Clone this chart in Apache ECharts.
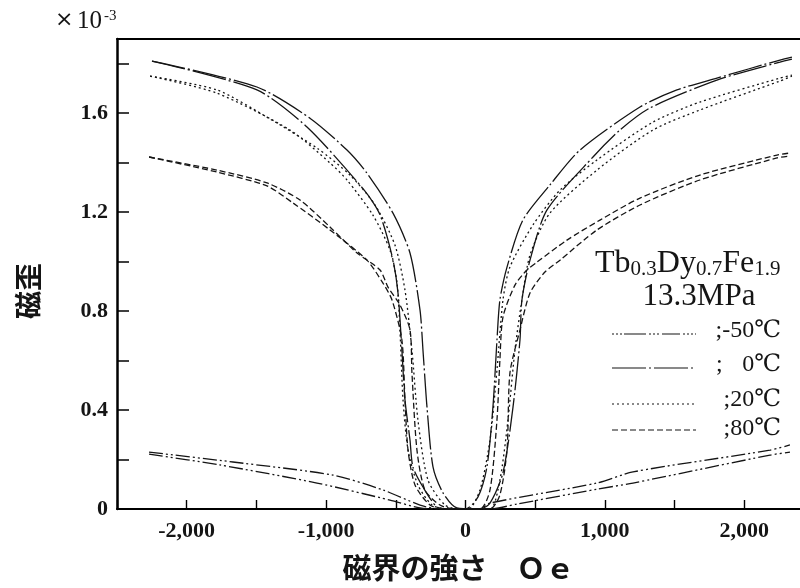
<!DOCTYPE html>
<html><head><meta charset="utf-8">
<script src="https://cdn.jsdelivr.net/npm/echarts@6.0.0/dist/echarts.min.js"></script>
<style>html,body{margin:0;padding:0;background:#fff}#c{width:800px;height:588px}</style>
</head><body><div id="c"></div>
<script>
// ---- tick labels ----
const xTickValues = [-2000, -1000, 0, 1000, 2000];
const yTickValues = [0, 0.4, 0.8, 1.2, 1.6];
const tempLabels = [';-50℃', '0℃', ';20℃', ';80℃'];

// ---- series data: [field Oe, strain ×10^-3] ----
// -50°C (two hysteresis branches)
const m50_a = [[-2270,0.230],[-1668,0.190],[-951,0.137],[-592,0.077],[-326,0.016],[-183,0],[0,0],[176,0.0],[369,0.02],[943,0.08],[1202,0.105],[2185,0.218],[2328,0.230]];
const m50_b = [[-2270,0.222],[-1761,0.178],[-1065,0.105],[-542,0.036],[-326,0.004],[-200,0],[100,0],[176,0.024],[943,0.105],[1202,0.150],[2185,0.238],[2328,0.259]];
// 0°C
const t0_a = [[-2249,1.811],[-1496,1.694],[-1137,1.544],[-728,1.290],[-613,1.189],[-520,1.007],[-484,0.873],[-456,0.643],[-434,0.441],[-398,0.279],[-377,0.170],[-305,0.089],[-204,0.008],[-111,0],[0,0],[90,0.049],[154,0.170],[197,0.412],[226,0.683],[247,0.845],[298,0.978],[412,1.168],[606,1.310],[821,1.451],[1252,1.625],[1517,1.694],[1804,1.742],[2256,1.815],[2342,1.827]];
const t0_b = [[-2249,1.811],[-1496,1.706],[-1116,1.580],[-850,1.451],[-707,1.358],[-520,1.196],[-398,1.035],[-326,0.804],[-305,0.643],[-276,0.412],[-233,0.170],[-161,0.065],[-61,0.004],[100,0],[176,0.024],[269,0.146],[341,0.412],[391,0.683],[405,0.845],[463,1.006],[585,1.209],[915,1.423],[1108,1.532],[1323,1.621],[1804,1.734],[2256,1.807],[2342,1.819]];
// 20°C
const t20_a = [[-2263,1.750],[-1783,1.681],[-1259,1.532],[-972,1.399],[-850,1.330],[-664,1.188],[-542,1.047],[-491,0.913],[-470,0.724],[-448,0.441],[-412,0.238],[-341,0.097],[-240,0.016],[-126,0],[20,0],[104,0.077],[176,0.279],[226,0.562],[269,0.845],[319,0.978],[484,1.148],[678,1.289],[943,1.411],[1345,1.564],[1682,1.645],[2256,1.742],[2342,1.754]];
const t20_b = [[-2263,1.750],[-1783,1.694],[-1424,1.584],[-1065,1.459],[-829,1.350],[-649,1.229],[-506,1.067],[-434,0.885],[-384,0.643],[-341,0.360],[-269,0.117],[-147,0.016],[-39,0],[176,0],[247,0.117],[305,0.360],[355,0.643],[405,0.845],[463,1.027],[606,1.196],[943,1.370],[1345,1.532],[1682,1.613],[2256,1.730],[2342,1.750]];
// 80°C
const t80_a = [[-2270,1.423],[-1783,1.362],[-1424,1.306],[-1237,1.237],[-972,1.128],[-707,1.006],[-592,0.913],[-527,0.845],[-456,0.683],[-434,0.441],[-412,0.238],[-362,0.097],[-255,0.016],[-147,0],[104,0],[176,0.077],[226,0.360],[247,0.602],[269,0.776],[355,0.905],[441,0.966],[513,0.998],[728,1.087],[965,1.168],[1252,1.257],[1682,1.350],[2235,1.431],[2328,1.439]];
const t80_b = [[-2270,1.423],[-1783,1.370],[-1424,1.318],[-1187,1.249],[-972,1.140],[-778,1.035],[-613,0.966],[-556,0.897],[-470,0.825],[-398,0.724],[-384,0.550],[-348,0.238],[-291,0.077],[-183,0.016],[-75,0],[176,0],[247,0.057],[298,0.238],[319,0.550],[391,0.724],[463,0.873],[570,0.958],[678,1.006],[943,1.128],[1252,1.229],[1682,1.330],[2235,1.419],[2328,1.427]];

const SERIF = "'Liberation Serif','DejaVu Serif',serif";
const CJK = "'Noto Sans CJK JP','Noto Sans CJK SC',sans-serif";
const INK = '#151515';
const dashes = {
  m50: [14,3,2,3,2,3],
  t0: [34,3,2,3],
  t20: [2,3],
  t80: [6,3]
};

function mk(name, data, dash) {
  return { name, type: 'line', data, symbol: 'none', showSymbol: false, smooth: 0.25,
    silent: true, lineStyle: { color: INK, width: 1.3, type: dash } };
}
function fmtX(v) {
  if (!xTickValues.includes(v)) return '';
  const s = Math.abs(v).toLocaleString('en-US');
  return (v < 0 ? '-' : '') + s;
}
function fmtY(v) {
  const hit = yTickValues.find(t => Math.abs(t - v) < 1e-6);
  if (hit === undefined) return '';
  return hit === 0 ? '0' : hit.toFixed(1);
}

const chart = echarts.init(document.getElementById('c'), null, { renderer: 'canvas' });

const legendY = [334, 368, 404, 430];
const legendTextY = [331, 365, 400, 429];
const legendDash = [[2,2,2,2,2,2,22,3,2,2,2,2,2,3,18,3], dashes.t0, dashes.t20, dashes.t80];
const legendGraphics = [];
tempLabels.forEach((t, i) => {
  legendGraphics.push({ type: 'line', shape: { x1: 612, y1: legendY[i], x2: 696, y2: legendY[i] },
    style: { stroke: INK, lineWidth: 1.2, lineDash: legendDash[i] } });
  if (i === 1) {
    legendGraphics.push({ type: 'text', x: 716, y: legendTextY[i],
      style: { text: ';', font: '24px ' + SERIF, fill: INK, textVerticalAlign: 'middle' } });
  }
  legendGraphics.push({ type: 'text', x: 781, y: legendTextY[i],
    style: { text: t, font: '24px ' + SERIF, fill: INK, textAlign: 'right', textVerticalAlign: 'middle' } });
});

chart.setOption({
  animation: false,
  backgroundColor: '#fff',
  grid: { left: 117, right: 0, top: 39, bottom: 79 },
  xAxis: [{
    type: 'value', min: -2500, max: 2400, interval: 500, position: 'bottom',
    axisLine: { show: true, onZero: false, lineStyle: { color: '#000', width: 2 } },
    axisTick: { show: true, inside: true, length: 9, lineStyle: { color: '#000', width: 1.4 } },
    axisLabel: { formatter: fmtX, margin: 11, fontSize: 22, fontWeight: 'bold', fontFamily: SERIF, color: INK, showMaxLabel: false },
    splitLine: { show: false },
    name: '磁界の強さ　Ｏｅ', nameLocation: 'middle', nameGap: 44,
    nameTextStyle: { fontFamily: CJK, fontSize: 29, fontWeight: 'bold', color: INK }
  }, {
    type: 'value', min: -2500, max: 2400, interval: 500, position: 'top',
    axisLine: { show: true, onZero: false, lineStyle: { color: '#000', width: 2 } },
    axisTick: { show: false }, axisLabel: { show: false }, splitLine: { show: false }
  }],
  yAxis: {
    type: 'value', min: 0, max: 1.9, interval: 0.2,
    axisLine: { show: true, onZero: false, lineStyle: { color: '#000', width: 2.5 } },
    axisTick: { show: true, inside: true, length: 12, lineStyle: { color: '#000', width: 1.5 } },
    axisLabel: { formatter: fmtY, margin: 9, fontSize: 22, fontWeight: 'bold', fontFamily: SERIF, color: INK, showMaxLabel: false },
    splitLine: { show: false }
  },
  graphic: [
    { type: 'text', x: 28, y: 291, rotation: Math.PI / 2,
      style: { text: '磁歪', font: 'bold 28px ' + CJK, fill: INK, textAlign: 'center', textVerticalAlign: 'middle' } },
    { type: 'text', x: 55, y: 20, style: { text: '×', fontSize: 22, fontFamily: "'DejaVu Sans',sans-serif", fill: INK, textVerticalAlign: 'middle' } },
    { type: 'text', x: 77, y: 21, style: { text: '10', fontSize: 25, fontFamily: SERIF, fill: INK, textVerticalAlign: 'middle' } },
    { type: 'text', x: 104, y: 16, style: { text: '-3', fontSize: 15, fontFamily: SERIF, fill: INK, textVerticalAlign: 'middle' } },
    { type: 'text', left: 595, top: 248, style: {
      text: '{b|Tb}{s|0.3}{b|Dy}{s|0.7}{b|Fe}{s|1.9}', fill: INK,
      rich: { b: { fontFamily: SERIF, fontSize: 32, fill: INK, verticalAlign: 'bottom' },
              s: { fontFamily: SERIF, fontSize: 21, fill: INK, verticalAlign: 'bottom' } } } },
    { type: 'text', x: 699, y: 297, style: { text: '13.3MPa', font: '31px ' + SERIF, fill: INK, textAlign: 'center', textVerticalAlign: 'middle' } },
    ...legendGraphics
  ],
  series: [
    mk('-50℃', m50_a, dashes.m50), mk('-50℃', m50_b, dashes.m50),
    mk('0℃', t0_a, dashes.t0), mk('0℃', t0_b, dashes.t0),
    mk('20℃', t20_a, dashes.t20), mk('20℃', t20_b, dashes.t20),
    mk('80℃', t80_a, dashes.t80), mk('80℃', t80_b, dashes.t80)
  ]
});
</script></body></html>
